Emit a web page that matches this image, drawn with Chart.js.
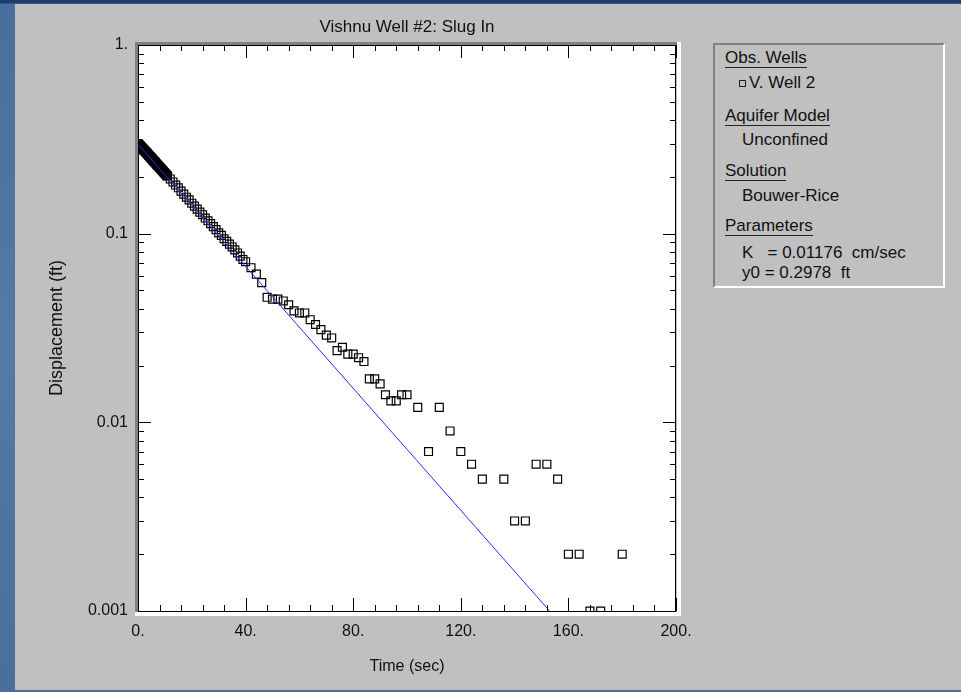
<!DOCTYPE html>
<html><head><meta charset="utf-8">
<script src="https://cdn.jsdelivr.net/npm/chart.js@4.4.0/dist/chart.umd.min.js"></script>
<style>
html,body{margin:0;padding:0;}
body{width:961px;height:692px;overflow:hidden;position:relative;
 background:linear-gradient(180deg,#1f3d6b 0px,#1f3d6b 3px,#4a6e9b 4px,#5679a5 50%,#4a6d99 100%);
 font-family:"Liberation Sans",Arial,sans-serif;}
#panel{position:absolute;left:15px;top:4px;width:946px;height:686px;background:#c0c0c0;}
#wrap{position:absolute;left:0;top:0;width:961px;height:692px;}
#legend{position:absolute;left:713px;top:43px;width:228px;height:241px;border-style:solid;border-width:2px;
 border-color:#808080 #ffffff #ffffff #808080;background:#c0c0c0;}
.ln{position:absolute;white-space:pre;font-size:17px;line-height:18px;color:#111;}
.u{border-bottom:1px solid #222;}
.mk{display:inline-block;width:5px;height:5px;border:1px solid #222;vertical-align:1px;margin-right:3px;}
</style></head>
<body>
<div id="panel"></div>
<div id="wrap"><canvas id="c" width="961" height="692"></canvas></div>
<div id="legend">
 <div class="ln" style="left:10px;top:4px"><span class="u">Obs. Wells</span></div>
 <div class="ln" style="left:24px;top:29px"><span class="mk"></span>V. Well 2</div>
 <div class="ln" style="left:10px;top:62px"><span class="u">Aquifer Model</span></div>
 <div class="ln" style="left:27px;top:86px">Unconfined</div>
 <div class="ln" style="left:10px;top:117px"><span class="u">Solution</span></div>
 <div class="ln" style="left:27px;top:142px">Bouwer-Rice</div>
 <div class="ln" style="left:10px;top:172px"><span class="u">Parameters</span></div>
 <div class="ln" style="left:27px;top:199px">K   = 0.01176  cm/sec</div>
 <div class="ln" style="left:27px;top:219px">y0 = 0.2978  ft</div>
</div>
<script>
// ---- data ----
const obsTime = [0,0.25,0.5,0.75,1,1.25,1.5,1.75,2,2.25,2.5,2.75,3,3.25,3.5,3.75,4,4.25,4.5,4.75,5,
  5.25,5.5,5.75,6,6.25,6.5,6.75,7,7.25,7.5,7.75,8,8.25,8.5,8.75,9,9.25,9.5,9.75,10,10.25,10.5,10.75,11,
  12,13,14,15,16,17,18,19,20,21,22,23,24,25,26,27,28,29,30,31,32,33,34,35,36,37,38,39,40,42,44,
  46,48,50,52,54,56,58,60,62,64,66,68,70,72,74,76,78,80,82,84,86,88,90,92,94,96,98,100,
  104,108,112,116,120,124,128,136,140,144,148,152,156,160,164,168,172,180];
const obsDisp = [0.300,0.298,0.295,0.292,0.290,0.287,0.285,0.282,0.280,0.277,0.275,0.272,0.270,0.268,0.265,0.263,0.260,0.258,0.256,0.253,0.251,
  0.249,0.246,0.244,0.242,0.240,0.238,0.235,0.233,0.231,0.229,0.227,0.225,0.223,0.221,0.219,0.217,0.215,0.213,0.211,0.209,0.207,0.205,0.203,0.202,
  0.195,0.188,0.181,0.175,0.168,0.162,0.156,0.151,0.145,0.140,0.135,0.130,0.126,0.121,0.117,0.113,0.109,0.105,0.101,0.098,0.094,0.091,0.088,0.085,0.082,0.079,0.076,0.073,0.071,0.066,0.061,
  0.055,0.046,0.045,0.045,0.044,0.042,0.039,0.038,0.038,0.035,0.033,0.031,0.029,0.028,0.024,0.025,0.023,0.023,0.022,0.021,0.017,0.017,0.016,0.014,0.013,0.013,0.014,0.014,
  0.012,0.007,0.012,0.009,0.007,0.006,0.005,0.005,0.003,0.003,0.006,0.006,0.005,0.002,0.002,0.001,0.001,0.002];
const fitTime = [0, 153];
const fitDisp = [0.2978, 0.001];
const xTickValues = [0,40,80,120,160,200];
const xTickLabels = ["0.","40.","80.","120.","160.","200."];
const yTickValues = [1,0.1,0.01,0.001];
const yTickLabels = ["1.","0.1","0.01","0.001"];

const FONT = '"Liberation Sans", Arial, sans-serif';
const TXT = '#111111';

const framePlugin = {
  id:'frame',
  beforeDraw(chart){
    const {ctx, chartArea:a} = chart;
    const w = a.right - a.left, h = a.bottom - a.top;
    ctx.save();
    ctx.fillStyle = '#808080';
    ctx.fillRect(a.left-3, a.top-3, w+4, 3);
    ctx.fillRect(a.left-3, a.top-3, 3, h+4);
    ctx.fillStyle = '#ffffff';
    ctx.fillRect(a.left-3, a.bottom+1, w+8, 4);
    ctx.fillRect(a.right+1, a.top-3, 4, h+8);
    ctx.fillRect(a.left, a.top, w, h);
    ctx.restore();
  },
  afterDatasetsDraw(chart){
    const {ctx, chartArea:a, scales} = chart;
    const xs = scales.x, ys = scales.y;
    ctx.save();
    ctx.strokeStyle = '#000';
    ctx.lineWidth = 1;
    ctx.beginPath();
    const MAJ = 13, MIN = 6;
    for (let v = xs.min; v <= xs.max + 1e-9; v += 8) {
      const px = Math.round(xs.getPixelForValue(v)) + 0.5;
      const len = xTickValues.includes(v) ? MAJ : MIN;
      ctx.moveTo(px, a.bottom); ctx.lineTo(px, a.bottom - len);
      ctx.moveTo(px, a.top); ctx.lineTo(px, a.top + len);
    }
    yTickValues.forEach(d => {
      const py = Math.round(ys.getPixelForValue(d)) + 0.5;
      ctx.moveTo(a.left, py); ctx.lineTo(a.left + MAJ, py);
      ctx.moveTo(a.right, py); ctx.lineTo(a.right - MAJ, py);
      if (d < 1) {
        for (let m = 2; m <= 9; m++) {
          const pm = Math.round(ys.getPixelForValue(m * d)) + 0.5;
          ctx.moveTo(a.left, pm); ctx.lineTo(a.left + MIN, pm);
          ctx.moveTo(a.right, pm); ctx.lineTo(a.right - MIN, pm);
        }
      }
    });
    ctx.stroke();
    ctx.strokeRect(a.left + 0.5, a.top + 0.5, a.right - a.left - 1, a.bottom - a.top);
    ctx.restore();
  }
};

new Chart(document.getElementById('c'), {
  type: 'scatter',
  data: {
    datasets: [
      {
        label: 'Fit',
        data: fitTime.map((t,i)=>({x:t, y:fitDisp[i]})),
        showLine: true, borderColor: '#2a2aff', borderWidth: 1,
        pointRadius: 0, pointHoverRadius: 0, clip: 0
      },
      {
        label: 'V. Well 2',
        data: obsTime.map((t,i)=>({x:t, y:obsDisp[i]})),
        showLine: false, pointStyle: 'rect', pointRadius: 5.6, pointHoverRadius: 5.6,
        borderColor: '#000', backgroundColor: 'rgba(0,0,0,0)', borderWidth: 1.2, clip: 0
      }
    ]
  },
  options: {
    responsive: false, animation: false, devicePixelRatio: 1,
    events: [],
    layout: {padding: {left: 0, right: 285, top: 0, bottom: 0}},
    plugins: {
      legend: {display: false},
      tooltip: {enabled: false},
      title: {display: true, text: 'Vishnu Well #2: Slug In', fullSize: false, color: TXT,
        font: {family: FONT, size: 17, weight: 'normal'}, padding: {top: 16.8, bottom: 7.8}}
    },
    scales: {
      x: {
        type: 'linear', min: 0, max: 200,
        grid: {display: false, drawTicks: false}, border: {display: false},
        afterBuildTicks(s){ s.ticks = xTickValues.map(v=>({value:v})); },
        ticks: {autoSkip: false, maxRotation: 0, padding: 11, color: TXT, font: {family: FONT, size: 16},
          callback: (v)=>{ const i = xTickValues.indexOf(v); return i >= 0 ? xTickLabels[i] : ''; }},
        title: {display: true, text: 'Time (sec)', color: TXT, font: {family: FONT, size: 16},
          padding: {top: 0, bottom: 15.4}},
        afterFit(s){ s.height = 81; }
      },
      y: {
        type: 'logarithmic', min: 0.001, max: 1,
        grid: {display: false, drawTicks: false}, border: {display: false},
        afterBuildTicks(s){ s.ticks = yTickValues.map(v=>({value:v})); },
        ticks: {autoSkip: false, padding: 10, color: TXT, font: {family: FONT, size: 16},
          callback: (v)=>{ const i = yTickValues.indexOf(v); return i >= 0 ? yTickLabels[i] : ''; }},
        title: {display: true, text: 'Displacement (ft)', color: TXT, font: {family: FONT, size: 18},
          padding: {top: 46.2, bottom: 0}},
        afterFit(s){ s.width = 138; }
      }
    }
  },
  plugins: [framePlugin]
});
</script>
</body></html>
